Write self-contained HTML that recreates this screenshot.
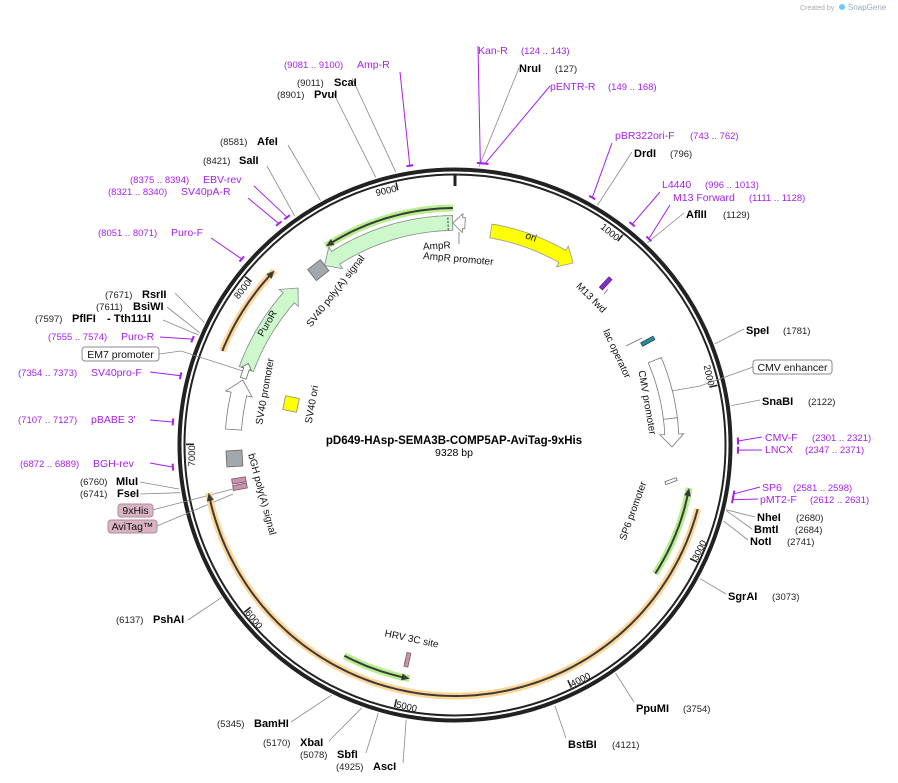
<!DOCTYPE html>
<html><head><meta charset="utf-8">
<style>
html,body{margin:0;padding:0;background:#fff;}
svg{display:block;font-family:"Liberation Sans","DejaVu Sans",sans-serif;}
.b{font-weight:bold;font-size:11px;fill:#000;}
.n{font-size:9.5px;fill:#222;}
.p{font-size:10.5px;fill:#a51ff0;}
.pn{font-size:9.5px;fill:#a51ff0;}
.i{font-size:10px;fill:#111;}
</style></head>
<body>
<svg id="s" width="898" height="783" viewBox="0 0 898 783" xmlns="http://www.w3.org/2000/svg">
<rect width="898" height="783" fill="#fff"/>
<text x="800" y="10" style="font-size:7px;fill:#aaa">Created by</text>
<text x="848" y="10" style="font-size:8px;fill:#9ab">SnapGene</text>
<circle cx="842" cy="7" r="3" fill="#6cf"/>
<g id="g"></g>
<text x="478" y="54" class="p">Kan-R</text><text x="521" y="54" class="pn">(124 .. 143)</text>
<text x="519" y="72" class="b">NruI</text><text x="555" y="72" class="n">(127)</text>
<text x="550" y="90" class="p">pENTR-R</text><text x="608" y="90" class="pn">(149 .. 168)</text>
<text x="284" y="68" class="pn">(9081 .. 9100)</text><text x="357" y="68" class="p">Amp-R</text>
<text x="297" y="86" class="n">(9011)</text><text x="334" y="86" class="b">ScaI</text>
<text x="277" y="98" class="n">(8901)</text><text x="314" y="98" class="b">PvuI</text>
<text x="220" y="145" class="n">(8581)</text><text x="257" y="145" class="b">AfeI</text>
<text x="203" y="164" class="n">(8421)</text><text x="239" y="164" class="b">SalI</text>
<text x="130" y="183" class="pn">(8375 .. 8394)</text><text x="203" y="183" class="p">EBV-rev</text>
<text x="108" y="195" class="pn">(8321 .. 8340)</text><text x="181" y="195" class="p">SV40pA-R</text>
<text x="98" y="236" class="pn">(8051 .. 8071)</text><text x="171" y="236" class="p">Puro-F</text>
<text x="105" y="298" class="n">(7671)</text><text x="142" y="298" class="b">RsrII</text>
<text x="96" y="310" class="n">(7611)</text><text x="133" y="310" class="b">BsiWI</text>
<text x="35" y="322" class="n">(7597)</text><text x="72" y="322" class="b">PflFI</text><text x="107" y="322" class="b">- Tth111I</text>
<text x="48" y="340" class="pn">(7555 .. 7574)</text><text x="121" y="340" class="p">Puro-R</text>
<rect x="82" y="347" width="77" height="14" rx="3" fill="#fff" stroke="#888"/>
<text x="120.5" y="358" text-anchor="middle" class="i" style="font-size:10.5px">EM7 promoter</text>
<text x="18" y="376" class="pn">(7354 .. 7373)</text><text x="91" y="376" class="p">SV40pro-F</text>
<text x="18" y="423" class="pn">(7107 .. 7127)</text><text x="91" y="423" class="p">pBABE 3'</text>
<text x="20" y="467" class="pn">(6872 .. 6889)</text><text x="93" y="467" class="p">BGH-rev</text>
<text x="80" y="485" class="n">(6760)</text><text x="116" y="485" class="b">MluI</text>
<text x="80" y="497" class="n">(6741)</text><text x="117" y="497" class="b">FseI</text>
<rect x="118" y="504" width="35" height="13" rx="3" fill="#d9b3c3" stroke="#b38a9c"/>
<text x="135.5" y="514" text-anchor="middle" class="i" style="font-size:10.5px">9xHis</text>
<rect x="108" y="520" width="49" height="13" rx="3" fill="#d9b3c3" stroke="#b38a9c"/>
<text x="132.5" y="530" text-anchor="middle" class="i" style="font-size:10.5px">AviTag™</text>
<text x="116" y="623" class="n">(6137)</text><text x="153" y="623" class="b">PshAI</text>
<text x="217" y="727" class="n">(5345)</text><text x="254" y="727" class="b">BamHI</text>
<text x="263" y="746" class="n">(5170)</text><text x="300" y="746" class="b">XbaI</text>
<text x="300" y="758" class="n">(5078)</text><text x="337" y="758" class="b">SbfI</text>
<text x="336" y="770" class="n">(4925)</text><text x="373" y="770" class="b">AscI</text>
<text x="568" y="748" class="b">BstBI</text><text x="612" y="748" class="n">(4121)</text>
<text x="636" y="712" class="b">PpuMI</text><text x="683" y="712" class="n">(3754)</text>
<text x="728" y="600" class="b">SgrAI</text><text x="772" y="600" class="n">(3073)</text>
<text x="750" y="545" class="b">NotI</text><text x="787" y="545" class="n">(2741)</text>
<text x="754" y="533" class="b">BmtI</text><text x="795" y="533" class="n">(2684)</text>
<text x="757" y="521" class="b">NheI</text><text x="796" y="521" class="n">(2680)</text>
<text x="760" y="503" class="p">pMT2-F</text><text x="810" y="503" class="pn">(2612 .. 2631)</text>
<text x="762" y="491" class="p">SP6</text><text x="793" y="491" class="pn">(2581 .. 2598)</text>
<text x="765" y="453" class="p">LNCX</text><text x="805" y="453" class="pn">(2347 .. 2371)</text>
<text x="765" y="441" class="p">CMV-F</text><text x="812" y="441" class="pn">(2301 .. 2321)</text>
<text x="762" y="405" class="b">SnaBI</text><text x="808" y="405" class="n">(2122)</text>
<rect x="753" y="360" width="79" height="14" rx="3" fill="#fff" stroke="#888"/>
<text x="792.5" y="371" text-anchor="middle" class="i" style="font-size:10.5px">CMV enhancer</text>
<text x="746" y="334" class="b">SpeI</text><text x="783" y="334" class="n">(1781)</text>
<text x="686" y="218" class="b">AflII</text><text x="723" y="218" class="n">(1129)</text>
<text x="673" y="201" class="p">M13 Forward</text><text x="749" y="201" class="pn">(1111 .. 1128)</text>
<text x="662" y="188" class="p">L4440</text><text x="705" y="188" class="pn">(996 .. 1013)</text>
<text x="634" y="157" class="b">DrdI</text><text x="670" y="157" class="n">(796)</text>
<text x="615" y="139" class="p">pBR322ori-F</text><text x="690" y="139" class="pn">(743 .. 762)</text>
<text x="454" y="444" text-anchor="middle" style="font-weight:bold;font-size:11.5px">pD649-HAsp-SEMA3B-COMP5AP-AviTag-9xHis</text>
<text x="454" y="456" text-anchor="middle" style="font-size:10.5px">9328 bp</text>
<text transform="translate(530,240) rotate(20)" text-anchor="middle" class="i">ori</text>
<text transform="translate(437,249) rotate(-3)" text-anchor="middle" class="i">AmpR</text>
<text transform="translate(458,262) rotate(5)" text-anchor="middle" class="i">AmpR promoter</text>
<text transform="translate(338,293) rotate(-52)" text-anchor="middle" class="i">SV40 poly(A) signal</text>
<text transform="translate(270,325) rotate(-60)" text-anchor="middle" class="i">PuroR</text>
<text transform="translate(268,392) rotate(-80)" text-anchor="middle" class="i">SV40 promoter</text>
<text transform="translate(315,405) rotate(-80)" text-anchor="middle" class="i">SV40 ori</text>
<text transform="translate(259,495) rotate(75)" text-anchor="middle" class="i">bGH poly(A) signal</text>
<text transform="translate(589,300) rotate(45)" text-anchor="middle" class="i">M13 fwd</text>
<text transform="translate(614,355) rotate(65)" text-anchor="middle" class="i">lac operator</text>
<text transform="translate(644,403) rotate(80)" text-anchor="middle" class="i">CMV promoter</text>
<text transform="translate(636,512) rotate(-70)" text-anchor="middle" class="i">SP6 promoter</text>
<text transform="translate(411,642) rotate(12)" text-anchor="middle" class="i">HRV 3C site</text>
</svg>
<script>
(function(){
var NS="http://www.w3.org/2000/svg",g=document.getElementById("g");
var cx=455,cy=445,T=9328;
function P(a,r){var t=a*Math.PI/180;return [cx+r*Math.sin(t),cy-r*Math.cos(t)];}
function A(bp){return bp/T*360;}
function el(n,at){var e=document.createElementNS(NS,n);for(var k in at)e.setAttribute(k,at[k]);g.appendChild(e);return e;}
function arcPts(a1,a2,r){var pts=[],n=Math.max(2,Math.ceil(Math.abs(a2-a1)));for(var i=0;i<=n;i++){pts.push(P(a1+(a2-a1)*i/n,r));}return pts;}
function ps(pts){return pts.map(function(p){return p[0].toFixed(1)+","+p[1].toFixed(1);}).join(" ");}
function band(a1,a2,r,w,fill,stroke,head){
  var s=a2>a1?1:-1,h=head?(w*0.9/r*180/Math.PI):0,ab=a2-s*h,ex=w*0.35;
  var pts=arcPts(a1,ab,r+w/2);
  if(head){pts.push(P(ab,r+w/2+ex));pts.push(P(a2,r));pts.push(P(ab,r-w/2-ex));}
  pts=pts.concat(arcPts(ab,a1,r-w/2));
  el("polygon",{points:ps(pts),fill:fill,stroke:stroke,"stroke-width":0.8});
}
function orf(a1,a2,r,glow){
  var s=a2>a1?1:-1,h=8/r*180/Math.PI;
  el("polyline",{points:ps(arcPts(a1,a2,r)),fill:"none",stroke:glow,"stroke-width":7,"stroke-opacity":0.85});
  el("polyline",{points:ps(arcPts(a1,a2-s*h*0.6,r)),fill:"none",stroke:"#3a3a3a","stroke-width":2});
  el("polygon",{points:ps([P(a2-s*h,r+3.5),P(a2,r),P(a2-s*h,r-3.5)]),fill:"#3a3a3a"});
}
function box(a,r,w,h,fill,stroke,extra){
  var p=P(a,r);el("rect",{x:-w/2,y:-h/2,width:w,height:h,fill:fill,stroke:stroke,"stroke-width":0.8,transform:"translate("+p[0].toFixed(1)+","+p[1].toFixed(1)+") rotate("+(a+(extra||0))+")"});
}
el("circle",{cx:cx,cy:cy,r:275.5,fill:"none",stroke:"#222","stroke-width":4});
el("circle",{cx:cx,cy:cy,r:270.5,fill:"none",stroke:"#222","stroke-width":2});
for(var k=0;k<10;k++){var a=A(k*1000);var p1=P(a,k?269:270),p2=P(a,k?261:259);
 el("line",{x1:p1[0],y1:p1[1],x2:p2[0],y2:p2[1],stroke:"#222","stroke-width":k?1.6:3});}
for(var k=1;k<10;k++){
 var a=A(k*1000),top=(a<90||a>270);
 var rot=top?(a>180?a-360:a):a-180;
 var p=P(a,top?260:262);
 var e=el("text",{x:top?-1:1,y:0,transform:"translate("+p[0].toFixed(1)+","+p[1].toFixed(1)+") rotate("+rot.toFixed(1)+")","text-anchor":top?"end":"start","font-size":"9.5","fill":"#111",dy:top?"0":"7"});
 e.textContent=String(k*1000);
}
var L=[[127,519,68],[9011,352,78],[8901,333,92],[8581,288,145],[8421,267,166],
[7671,175,293],[7611,167,307],[7597,163,320],[6760,140,482],[6741,140,494],
[6137,188,620],[5345,291,722],[5170,329,741],[5078,366,753],[4925,403,763],
[4121,566,738],[3754,634,702],[3073,726,594],[2741,748,540],[2684,752,529],[2680,755,517],
[2122,760,400],[1781,744,329],[1129,684,213],[796,632,152]];
L.forEach(function(l){var p=P(A(l[0]),279);el("line",{x1:l[1],y1:l[2],x2:p[0],y2:p[1],stroke:"#888","stroke-width":0.8});});
el("polyline",{points:"159,354 181,351 246,372",fill:"none",stroke:"#888","stroke-width":0.8});
el("polyline",{points:"753,367 700,386 666,392",fill:"none",stroke:"#888","stroke-width":0.8});
el("line",{x1:137,y1:514,x2:233,y2:489,stroke:"#888","stroke-width":0.8});
el("line",{x1:157,y1:526,x2:233,y2:494,stroke:"#888","stroke-width":0.8});
var PR=[[133,478,46],[158,550,86],[9090,400,72],[8385,254,186],[8330,248,198],[8061,211,238],[7565,160,337],[7363,150,372],[7117,150,420],[6880,150,463],
[752,612,143],[1004,660,192],[1120,670,205],[2311,762,437],[2359,762,450],[2590,760,487],[2621,758,499]];
PR.forEach(function(q){var a=A(q[0]);var p=P(a,283);el("line",{x1:q[1],y1:q[2],x2:p[0],y2:p[1],stroke:"#a51ff0","stroke-width":1});
 var t1=P(a-0.7,283),t2=P(a+0.7,283);el("line",{x1:t1[0],y1:t1[1],x2:t2[0],y2:t2[1],stroke:"#a51ff0","stroke-width":2});});
orf(104.8,259,251,"#ffcf85");
orf(-68,-46,251,"#ffcf85");
orf(-0.5,-33,237,"#a8ec7a");
orf(122.7,100.4,238,"#a8ec7a");
orf(207.7,191,238,"#a8ec7a");
band(9.5,33,217,14,"#ffff00","#999",true);
band(-0.6,-36,222,15,"#ccf8cc","#888",true);
band(2.6,-0.6,222,11,"#fff","#777",true);
var d1=P(-1.8,215),d2=P(-1.8,229);el("line",{x1:d1[0],y1:d1[1],x2:d2[0],y2:d2[1],stroke:"#333","stroke-width":1,"stroke-dasharray":"2,1.5"});
band(-70,-45,222,15,"#ccf8cc","#888",true);
band(-72.5,-68.5,222,6,"#fff","#666",true);
band(-86,-73,222,16,"#fff","#777",true);
band(67,90.5,217,14,"#fff","#777",true);
var c1=P(83,210),c2=P(83,224);el("line",{x1:c1[0],y1:c1[1],x2:c2[0],y2:c2[1],stroke:"#777","stroke-width":0.8});
box(99.5,219,12,3,"#fff","#666",60);
box(-38,222,16,14,"#a3a8ad","#666",0);
box(-93.5,221,16,16,"#a3a8ad","#666",0);
box(-99.3,219,14,5,"#c994aa","#7a5566",90);
box(-101,219,14,5,"#c994aa","#7a5566",90);
box(61.7,219,14,4,"#2f8597","#1b4f5a",90);
box(43,221,14,4,"#8a2fc9","#5a1a8a",90);
box(192.5,220,14,4,"#c994aa","#7a5566",90);
el("rect",{x:-7,y:-7,width:14,height:14,fill:"#ffff00",stroke:"#888","stroke-width":0.8,transform:"translate(291,404) rotate(12)"});
el("line",{x1:459,y1:232,x2:459,y2:244,stroke:"#777","stroke-width":0.8});
el("line",{x1:604,y1:294,x2:608,y2:289,stroke:"#777","stroke-width":0.8});
el("line",{x1:626,y1:346,x2:642,y2:338,stroke:"#777","stroke-width":0.8});
el("line",{x1:406,y1:657,x2:405,y2:664,stroke:"#777","stroke-width":0.8});
})();
</script>
</body></html>
